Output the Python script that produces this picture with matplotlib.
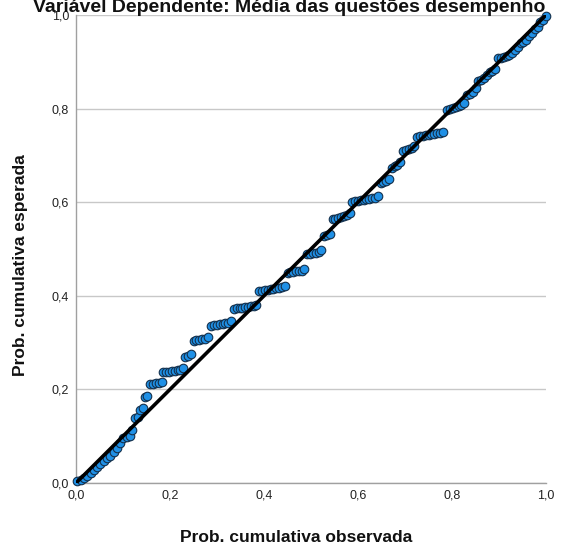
import matplotlib
matplotlib.use("Agg")
import matplotlib.pyplot as plt
from matplotlib.ticker import FuncFormatter

plt.rcParams['font.family'] = ['Liberation Sans', 'DejaVu Sans']

title = "Variável Dependente: Média das questões desempenho"
xlabel = "Prob. cumulativa observada"
ylabel = "Prob. cumulativa esperada"
ticks = [0.0, 0.2, 0.4, 0.6, 0.8, 1.0]

observed = [
    0.003, 0.010, 0.017, 0.024, 0.031, 0.038, 0.045, 0.052, 0.059, 0.066,
    0.073, 0.080, 0.087, 0.094, 0.101, 0.108, 0.115,
    0.119, 0.126, 0.132, 0.137, 0.142, 0.147, 0.152,
    0.158, 0.164, 0.170, 0.176, 0.182,
    0.186, 0.192, 0.198, 0.204, 0.210, 0.216, 0.222, 0.228,
    0.232, 0.238, 0.244,
    0.250, 0.256, 0.262, 0.268, 0.274, 0.280,
    0.288, 0.294, 0.300, 0.306, 0.312, 0.318, 0.324, 0.330,
    0.336, 0.342, 0.348, 0.354, 0.360, 0.366, 0.372, 0.378, 0.384,
    0.390, 0.396, 0.402, 0.408, 0.414, 0.420, 0.426, 0.432, 0.438, 0.444,
    0.450, 0.456, 0.462, 0.468, 0.474, 0.480, 0.486,
    0.492, 0.498, 0.504, 0.510, 0.516, 0.522,
    0.528, 0.534, 0.540,
    0.546, 0.552, 0.558, 0.564, 0.570, 0.576, 0.582,
    0.588, 0.594, 0.600, 0.606, 0.612, 0.618, 0.624, 0.630, 0.636, 0.642,
    0.648, 0.654, 0.660, 0.666,
    0.672, 0.678, 0.684, 0.690,
    0.696, 0.702, 0.708, 0.714, 0.720,
    0.726, 0.732, 0.738, 0.744, 0.750, 0.756, 0.762, 0.768, 0.774, 0.780,
    0.790, 0.796, 0.802, 0.808, 0.814, 0.820, 0.826,
    0.832, 0.838, 0.844, 0.850,
    0.856, 0.862, 0.868, 0.874,
    0.880, 0.886, 0.892,
    0.898, 0.904, 0.910, 0.916, 0.922, 0.928,
    0.934, 0.940,
    0.946, 0.952, 0.958,
    0.964, 0.970,
    0.976, 0.982,
    0.988, 0.994, 0.999,
]
expected = [
    0.004, 0.006, 0.010, 0.016, 0.022, 0.028, 0.034, 0.040, 0.046, 0.053,
    0.058, 0.066, 0.075, 0.086, 0.096, 0.098, 0.100,
    0.113, 0.139, 0.142, 0.156, 0.160, 0.184, 0.186,
    0.212, 0.212, 0.213, 0.214, 0.216,
    0.237, 0.238, 0.238, 0.239, 0.240, 0.241, 0.242, 0.245,
    0.270, 0.272, 0.275,
    0.304, 0.305, 0.306, 0.307, 0.308, 0.311,
    0.336, 0.337, 0.338, 0.339, 0.340, 0.341, 0.342, 0.346,
    0.372, 0.373, 0.374, 0.375, 0.376, 0.377, 0.378, 0.379, 0.381,
    0.410, 0.411, 0.412, 0.413, 0.414, 0.415, 0.416, 0.417, 0.418, 0.421,
    0.449, 0.450, 0.451, 0.452, 0.453, 0.454, 0.458,
    0.489, 0.490, 0.491, 0.492, 0.493, 0.497,
    0.527, 0.530, 0.533,
    0.564, 0.565, 0.566, 0.568, 0.570, 0.572, 0.576,
    0.600, 0.602, 0.603, 0.604, 0.605, 0.606, 0.607, 0.608, 0.610, 0.613,
    0.640, 0.643, 0.646, 0.650,
    0.674, 0.677, 0.680, 0.686,
    0.710, 0.712, 0.714, 0.716, 0.720,
    0.740, 0.741, 0.742, 0.743, 0.744, 0.745, 0.746, 0.747, 0.748, 0.751,
    0.798, 0.800, 0.802, 0.804, 0.806, 0.808, 0.812,
    0.828, 0.831, 0.835, 0.845,
    0.858, 0.862, 0.866, 0.872,
    0.878, 0.880, 0.884,
    0.908, 0.909, 0.910, 0.912, 0.914, 0.918,
    0.926, 0.932,
    0.940, 0.943, 0.947,
    0.956, 0.962,
    0.970, 0.975,
    0.984, 0.990, 0.997,
]

fig = plt.figure(figsize=(5.66, 5.5), dpi=100)
ax = fig.add_axes([76/566, 67/550, 470/566, 468/550])

ax.scatter(observed, expected, s=38, facecolor='#1f90e6', edgecolor='#14304c',
           linewidth=0.8, zorder=3, clip_on=False)
ax.plot([0, 1], [0, 1], color='black', linewidth=2.6, zorder=4,
        solid_capstyle='butt')

ax.set_xlim(0, 1)
ax.set_ylim(0, 1)
ax.set_xticks(ticks)
ax.set_yticks(ticks)
fmt = FuncFormatter(lambda v, p: f"{v:.1f}".replace('.', ','))
ax.xaxis.set_major_formatter(fmt)
ax.yaxis.set_major_formatter(fmt)
ax.tick_params(length=0, labelsize=9, colors='#222222', pad=5)
ax.yaxis.grid(True, color='#c8c8c8', linewidth=1.0)
ax.set_axisbelow(True)
for s in ['top', 'right']:
    ax.spines[s].set_visible(False)
for s in ['left', 'bottom']:
    ax.spines[s].set_color('#a0a0a0')
    ax.spines[s].set_linewidth(1.0)

fig.text(296/566, 1 - 538/550, xlabel, fontsize=12.5, fontweight='bold',
         ha='center', va='center', color='#111111')
fig.text(21/566, 1 - 265/550, ylabel, fontsize=12.5, fontweight='bold',
         rotation=90, ha='center', va='center', color='#111111')
fig.text(289/566, 1 - 8/550, title, fontsize=14, fontweight='bold',
         ha='center', va='center', color='#111111')

fig.savefig("out.png", dpi=100)
